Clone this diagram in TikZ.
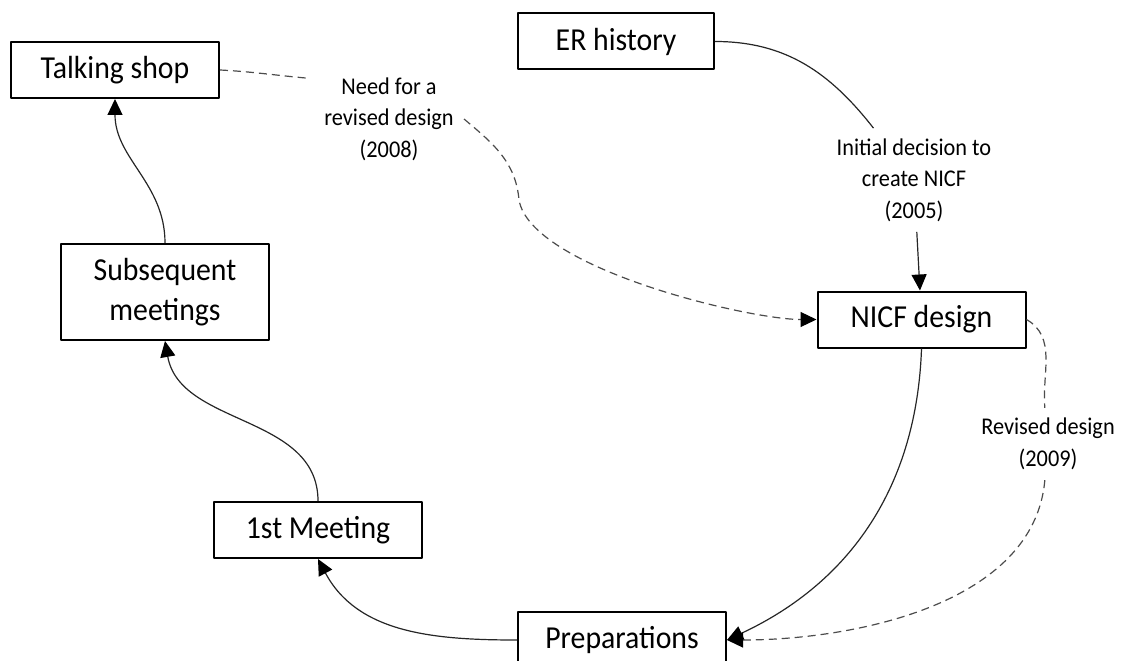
\documentclass[tikz,border=0pt]{standalone}
\usepackage{fontspec}
\setmainfont{Carlito}[FakeStretch=0.93]
\usetikzlibrary{arrows.meta}
\tikzset{
box/.style={draw, line width=1pt, minimum width=104pt, minimum height=28pt, align=center, inner sep=2pt, font=\fontsize{16}{20}\selectfont},
lbl/.style={align=center, inner sep=5pt, font=\fontsize{12}{15.75}\selectfont},
link/.style={line width=0.6pt, draw=black!85},
hint/.style={line width=0.6pt, draw=black!70, dash pattern=on 4pt off 2.5pt}
}
\begin{document}
\begin{tikzpicture}[x=0.5pt, y=0.5pt, line join=round, >={Triangle[length=8pt,width=7.5pt,color=black]}]
\useasboundingbox (0,0) rectangle (1123,660);
\node[box] (talk) at (115,590) {Talking shop};
\node[box, minimum height=48pt] (subs) at (165,368) {Subsequent\\meetings};
\node[box] (meet) at (318,130) {1st Meeting};
\node[box] (prep) at (622,20) {Preparations};
\node[box, minimum width=98pt] (er) at (616,618.5) {ER history};
\node[box] (nicf) at (921.5,340.5) {NICF design};
\node[lbl] (need) at (389,541) {Need for a\\revised design\\(2008)};
\node[lbl] (init) at (914,480) {Initial decision to\\create NICF\\(2005)};
\node[lbl] (rev) at (1048,216) {Revised design\\(2009)};
\coordinate (bend) at (519,460);
\draw[link] (er.east) to[out=0,in=128] (init);
\draw[link,->] (init) -- (nicf);
\draw[link,->] (nicf.south) to[out=-92,in=25] (prep.east);
\draw[link,->] (prep.west) to[out=180,in=-62] (meet.south);
\draw[link,->] (meet.north) to[out=90,in=-80] (subs.south);
\draw[link,->] (subs.north) to[out=90,in=-90] (talk.south);
\draw[hint] (talk.east) to[out=-3,in=175] ([shift={(-7,-11)}]need.north west);
\draw[hint,->] (need.east) to[out=-40,in=95] (bend) to[out=-80,in=180,looseness=0.55] (nicf);
\draw[hint] (nicf.east) to[out=-30,in=95] (rev);
\draw[hint,->] (rev) to[out=-95,in=0,looseness=0.9] (prep.east);
\end{tikzpicture}
\end{document}
